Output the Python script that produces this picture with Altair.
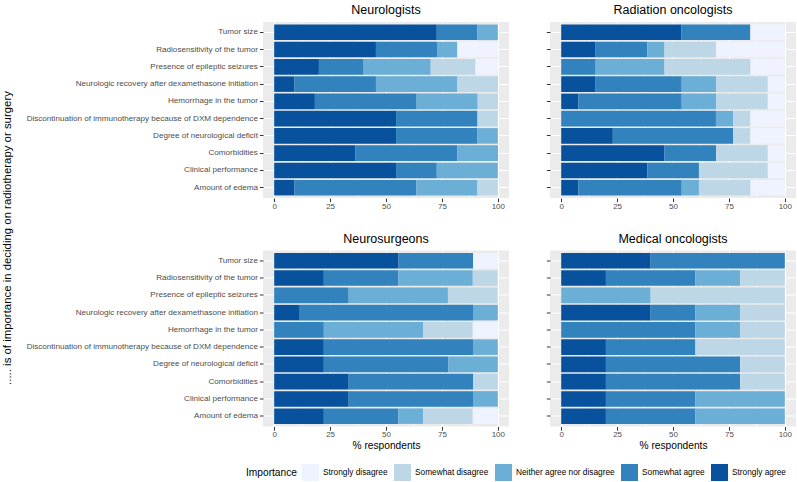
import altair as alt
import pandas as pd

FONT = "Liberation Sans"

items = [
    "Tumor size",
    "Radiosensitivity of the tumor",
    "Presence of epileptic seizures",
    "Neurologic recovery after dexamethasone initiation",
    "Hemorrhage in the tumor",
    "Discontinuation of immunotherapy because of DXM dependence",
    "Degree of neurological deficit",
    "Comorbidities",
    "Clinical performance",
    "Amount of edema",
]

levels = [
    "Strongly disagree",
    "Somewhat disagree",
    "Neither agree nor disagree",
    "Somewhat agree",
    "Strongly agree",
]
palette = ["#EFF3FF", "#BDD7E7", "#6BAED6", "#3182BD", "#08519C"]

groups = ["Neurologists", "Radiation oncologists", "Neurosurgeons", "Medical oncologists"]

# % respondents per item (same order as `items`), one list per answer level
neurologists = {
    "Strongly agree":             [72.7, 45.5, 20.0, 9.1, 18.2, 54.5, 54.5, 36.4, 54.5, 9.1],
    "Somewhat agree":             [18.2, 27.3, 20.0, 36.4, 45.5, 36.4, 36.4, 45.5, 18.2, 54.5],
    "Neither agree nor disagree": [9.1, 9.1, 30.0, 36.4, 27.3, 0.0, 9.1, 18.2, 27.3, 27.3],
    "Somewhat disagree":          [0.0, 0.0, 20.0, 18.2, 9.1, 9.1, 0.0, 0.0, 0.0, 9.1],
    "Strongly disagree":          [0.0, 18.2, 10.0, 0.0, 0.0, 0.0, 0.0, 0.0, 0.0, 0.0],
}
radiation_oncologists = {
    "Strongly agree":             [53.8, 15.4, 0.0, 15.4, 7.7, 0.0, 23.1, 46.2, 38.5, 7.7],
    "Somewhat agree":             [30.8, 23.1, 15.4, 38.5, 46.2, 69.2, 53.8, 23.1, 23.1, 46.2],
    "Neither agree nor disagree": [0.0, 7.7, 30.8, 15.4, 15.4, 7.7, 0.0, 0.0, 0.0, 7.7],
    "Somewhat disagree":          [0.0, 23.1, 38.5, 23.1, 23.1, 7.7, 7.7, 23.1, 30.8, 23.1],
    "Strongly disagree":          [15.4, 30.8, 15.4, 7.7, 7.7, 15.4, 15.4, 7.7, 7.7, 15.4],
}
neurosurgeons = {
    "Strongly agree":             [55.6, 22.2, 0.0, 11.1, 0.0, 22.2, 22.2, 33.3, 33.3, 22.2],
    "Somewhat agree":             [33.3, 33.3, 33.3, 77.8, 22.2, 66.7, 55.6, 55.6, 55.6, 33.3],
    "Neither agree nor disagree": [0.0, 33.3, 44.4, 11.1, 44.4, 11.1, 22.2, 0.0, 11.1, 11.1],
    "Somewhat disagree":          [0.0, 11.1, 22.2, 0.0, 22.2, 0.0, 0.0, 11.1, 0.0, 22.2],
    "Strongly disagree":          [11.1, 0.0, 0.0, 0.0, 11.1, 0.0, 0.0, 0.0, 0.0, 11.1],
}
medical_oncologists = {
    "Strongly agree":             [40, 20, 0, 40, 0, 20, 20, 20, 20, 20],
    "Somewhat agree":             [60, 40, 0, 20, 60, 40, 60, 60, 40, 40],
    "Neither agree nor disagree": [0, 20, 40, 20, 20, 0, 0, 0, 40, 40],
    "Somewhat disagree":          [0, 20, 60, 20, 20, 40, 20, 20, 0, 0],
    "Strongly disagree":          [0, 0, 0, 0, 0, 0, 0, 0, 0, 0],
}

x_ticks = [0, 25, 50, 75, 100]
minor_ticks = [12.5, 37.5, 62.5, 87.5]
y_title = "..... is of importance in deciding on radiotherapy or surgery"
x_title = "% respondents"

tables = dict(zip(groups, [neurologists, radiation_oncologists, neurosurgeons, medical_oncologists]))

rows = []
for g, table in tables.items():
    for lev, vals in table.items():
        for item, v in zip(items, vals):
            # stacking rank: "Strongly agree" sits at 0, "Strongly disagree" at the far right
            rows.append({"group": g, "item": item, "level": lev,
                         "rank": 4 - levels.index(lev), "pct": v})
df = pd.DataFrame(rows)

PW, PH = 246, 176
x_scale = alt.Scale(domain=[-5, 105], nice=False, zero=False)
color = alt.Color(
    "level:N",
    scale=alt.Scale(domain=levels, range=palette),
    legend=alt.Legend(
        title="Importance", orient="none", direction="horizontal",
        legendX=-17, legendY=442,
        titleOrient="left", titleFont=FONT, titleFontSize=10.2, titleFontWeight="normal",
        titleColor="black", titlePadding=5, titleBaseline="middle",
        labelFont=FONT, labelFontSize=8.3, labelColor="black", labelOffset=4,
        symbolType="square", symbolSize=289, symbolStrokeWidth=0, symbolOpacity=1,
        columnPadding=6, columns=5,
    ),
)


def panel(name, show_labels, show_xtitle, extra=None):
    d = df[df.group == name]
    x_axis = alt.Axis(
        values=x_ticks, grid=True, gridColor="white", gridWidth=1.1, domain=False,
        tickColor="#333333", tickSize=3.6, tickWidth=1,
        labelFont=FONT, labelFontSize=8, labelColor="#4D4D4D", labelPadding=0.5,
        titleFont=FONT, titleFontSize=10.2, titleFontWeight="normal", titleColor="black",
        titlePadding=2,
    )
    y_axis = alt.Axis(
        labels=show_labels, grid=True, gridColor="white", gridWidth=1.1, domain=False,
        tickColor="#333333", tickSize=3.6, tickWidth=1, bandPosition=0.5,
        labelFont=FONT, labelFontSize=8.1, labelColor="#4D4D4D", labelPadding=2,
        labelLimit=400,
    )
    xt = x_title if show_xtitle else None
    # thin white minor grid lines halfway between the major ticks
    minor = alt.Chart(pd.DataFrame({"m": minor_ticks})).mark_rule(
        color="white", strokeWidth=0.55
    ).encode(x=alt.X("m:Q", scale=x_scale, axis=x_axis, title=xt))
    bars = alt.Chart(d).mark_bar().encode(
        x=alt.X("pct:Q", stack="zero", scale=x_scale, axis=x_axis, title=xt),
        y=alt.Y("item:N", sort=items, axis=y_axis, title=None,
                scale=alt.Scale(paddingInner=0.1, paddingOuter=0.15)),
        color=color,
        order=alt.Order("rank:Q", sort="ascending"),
    )
    layers = [minor, bars]
    if extra is not None:
        layers.append(extra)
    return alt.layer(*layers).properties(
        width=PW, height=PH,
        view=alt.ViewBackground(fill="#EBEBEB", strokeWidth=0),
        title=alt.TitleParams(name, font=FONT, fontSize=12.5, fontWeight="normal",
                              color="black", anchor="middle", offset=5),
    )


# shared y title drawn as text to the left of the left column
ytitle = alt.Chart(pd.DataFrame({"t": [y_title]})).mark_text(
    angle=270, font=FONT, fontSize=11.4, color="black", align="center", baseline="middle"
).encode(text="t:N", x=alt.value(-255), y=alt.value(216))

chart = alt.concat(
    panel("Neurologists", True, False, ytitle),
    panel("Radiation oncologists", False, False),
    panel("Neurosurgeons", True, True),
    panel("Medical oncologists", False, True),
    columns=2,
    spacing=alt.RowColnumber(row=52.5, column=41),
    bounds="flush",
).properties(
    padding={"left": 2, "top": 4, "right": 0, "bottom": 0},
    background="white",
).configure_view(strokeWidth=0)

chart.save("out.html", embed_options={"renderer": "svg", "actions": False})
